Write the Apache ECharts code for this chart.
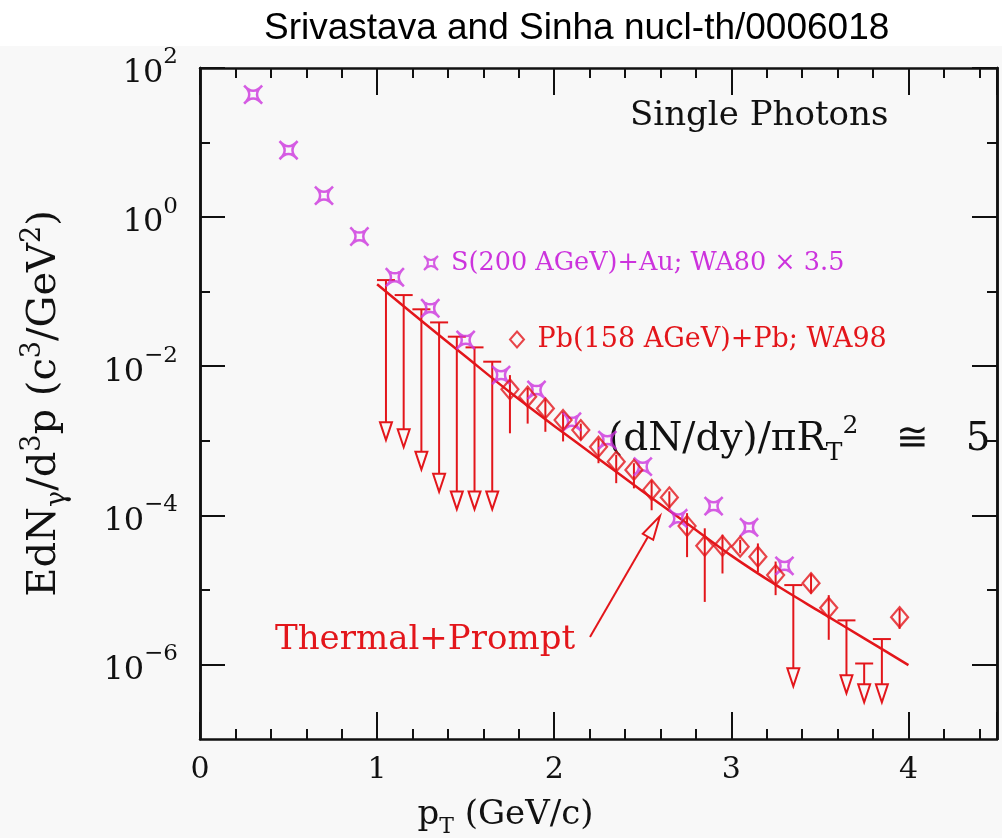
<!DOCTYPE html>
<html><head><meta charset="utf-8">
<script src="https://cdn.jsdelivr.net/npm/echarts@6/dist/echarts.min.js"></script>
<style>
html,body{margin:0;padding:0;background:#fff;}
#c{width:1002px;height:838px;background:linear-gradient(#ffffff 0,#ffffff 46px,#f8f8f8 46px);}
</style></head><body><div id="c"></div>
<script>
// ---- data ----
const wa80X = [0.3,0.5,0.7,0.9,1.1,1.3,1.5,1.7,1.9,2.1,2.3,2.5,2.7,2.9,3.1,3.3];
const wa80Y = [44,7.9,1.94,0.55,0.156,0.06,0.0225,0.0076,0.0048,0.0018,0.00102,4.5e-4,9.1e-5,1.33e-4,6.9e-5,2.1e-5];

const wa98X = [1.75,1.85,1.95,2.05,2.15,2.25,2.35,2.45,2.55,2.65,2.75,2.85,2.95,3.05,3.15,3.25,3.45,3.55,3.95];
const wa98Y = [4.9e-3,3.9e-3,2.72e-3,1.9e-3,1.39e-3,8.3e-4,5.25e-4,4.07e-4,2.19e-4,1.74e-4,7.2e-5,3.9e-5,3.9e-5,3.8e-5,2.79e-5,1.58e-5,1.23e-5,5.75e-6,4.3e-6];
const wa98Hi = [7.6e-3,5.1e-3,3.6e-3,2.45e-3,1.7e-3,1.07e-3,6.5e-4,5.0e-4,2.95e-4,2.1e-4,1.07e-4,6.7e-5,5.5e-5,4.7e-5,4.2e-5,2.4e-5,1.66e-5,8.5e-6,5.6e-6];
const wa98Lo = [1.26e-3,1.7e-3,1.32e-3,9.8e-4,1.02e-3,5.0e-4,2.7e-4,2.3e-4,1.17e-4,1.23e-4,2.75e-5,6.9e-6,1.66e-5,3.1e-5,1.74e-5,8.5e-6,8.9e-6,2.14e-6,3.0e-6];

const ulX   = [1.05,1.15,1.25,1.35,1.45,1.55,1.65,3.35,3.65,3.75,3.85];
const ulTop = [0.143,0.090,0.058,0.0387,0.0249,0.0179,0.0115,1.16e-5,3.9e-6,1.03e-6,2.19e-6];
const ulEnd = [1.02e-3,8.2e-4,4.1e-4,2.07e-4,1.2e-4,1.2e-4,1.2e-4,5.1e-7,4.1e-7,3.1e-7,3.1e-7];

const thX = [1.0,1.25,1.5,1.75,2.0,2.25,2.5,2.75,3.0,3.25,3.5,3.75,4.0];
const thY = [0.126,0.0407,0.0135,4.47e-3,1.58e-3,5.75e-4,2.09e-4,7.76e-5,2.88e-5,1.17e-5,5.1e-6,2.24e-6,9.8e-7];

const yMajorExp = [-6,-4,-2,0,2];
const yMinorExp = [-5,-3,-1,1];
const xTickLabels = [0,1,2,3,4];

// ---- styles ----
const RED = '#e3161b', MAG = '#cc33dd', INK = '#111111';
const FONT = 'DejaVu Serif';
const starPath = 'path://M-3,-3Q0,0.4 3,-3Q-0.4,0 3,3Q0,-0.4 -3,3Q0.4,0 -3,-3Z';
const pw = e => Math.pow(10, e);

const zip = (...arrs) => arrs[0].map((_, i) => arrs.map(a => a[i]));

function yAxisBase(pos, exps, len, labels) {
  return {
    type: 'log', position: pos, min: 1e-7, max: 100, logBase: 10,
    axisLine: {show: true, onZero: false, lineStyle: {color: INK, width: 2.5}},
    axisTick: {show: true, inside: true, length: len, lineStyle: {color: INK, width: 2}, customValues: exps.map(pw)},
    minorTick: {show: false},
    splitLine: {show: false},
    axisLabel: labels ? {
      show: true, margin: 22, customValues: exps.map(pw),
      formatter: v => {
        const e = Math.round(Math.log10(v));
        return '{b|10}{s|' + (e < 0 ? '\u2212' + (-e) : e) + '}';
      },
      rich: {
        b: {fontFamily: FONT, fontSize: 32, lineHeight: 44, verticalAlign: 'bottom', color: INK},
        s: {fontFamily: FONT, fontSize: 23, lineHeight: 23, verticalAlign: 'top', color: INK}
      }
    } : {show: false}
  };
}
function xAxisBase(pos, labels) {
  return {
    type: 'value', position: pos, min: 0, max: 4.5, interval: 1,
    axisLine: {show: true, onZero: false, lineStyle: {color: INK, width: 2.5}},
    axisTick: {show: true, inside: true, length: 27, lineStyle: {color: INK, width: 2}},
    minorTick: {show: true, splitNumber: 5, length: 10, lineStyle: {color: INK, width: 2}},
    splitLine: {show: false},
    axisLabel: labels ? {show: true, margin: 16, fontFamily: FONT, fontSize: 30, color: INK,
      customValues: xTickLabels} : {show: false}
  };
}

const chart = echarts.init(document.getElementById('c'), null, {renderer: 'canvas'});

const xMain = xAxisBase('bottom', true);
xMain.name = '{n|p}{t|T}{n| (GeV/c)}';
xMain.nameLocation = 'middle';
xMain.nameGap = 53;
xMain.nameTextStyle = {padding: [0, 186, 0, 0], rich: {
  n: {fontFamily: FONT, fontSize: 34, lineHeight: 46, verticalAlign: 'middle', color: INK},
  t: {fontFamily: FONT, fontSize: 22, lineHeight: 22, verticalAlign: 'bottom', color: INK}
}};

const yMain = yAxisBase('left', yMajorExp, 25, true);
yMain.name = '{n|EdN}{g|\u03b3}{n|/d}{p|3}{n|p (c}{p|3}{n|/GeV}{p|2}{n|)}';
yMain.nameLocation = 'middle';
yMain.nameRotate = 90;
yMain.nameGap = 129;
yMain.nameTextStyle = {rich: {
  n: {fontFamily: FONT, fontSize: 40, lineHeight: 52, verticalAlign: 'middle', color: INK},
  g: {fontFamily: FONT, fontSize: 27, lineHeight: 27, verticalAlign: 'bottom', color: INK},
  p: {fontFamily: FONT, fontSize: 27, lineHeight: 27, verticalAlign: 'top', color: INK}
}};

// arrow annotation geometry (pixel)
const aStart = [590, 637], aTip = [660, 516];
const adx = aTip[0] - aStart[0], ady = aTip[1] - aStart[1], alen = Math.hypot(adx, ady);
const ux = adx / alen, uy = ady / alen, hl = 24, hw = 6;
const aBase = [aTip[0] - ux * hl, aTip[1] - uy * hl];

const option = {
  backgroundColor: 'transparent',
  animation: false,
  title: {
    text: 'Srivastava and Sinha nucl-th/0006018', left: 259, top: 5,
    textStyle: {fontFamily: 'Liberation Sans', fontWeight: 'normal', fontSize: 37, color: '#000'}
  },
  grid: {left: 200, top: 68, right: 5, bottom: 99, containLabel: false, outerBoundsMode: 'none'},
  xAxis: [xMain, xAxisBase('top', false)],
  yAxis: [yMain, yAxisBase('left', yMinorExp, 10, false), yAxisBase('right', yMajorExp, 25, false), yAxisBase('right', yMinorExp, 10, false)],
  legend: [
    {data: ['S(200 AGeV)+Au; WA80 \u00d7 3.5'], left: 418, top: 245, selectedMode: false,
     itemWidth: 14, itemHeight: 14, formatter: ' {name}',
     textStyle: {color: MAG, fontFamily: FONT, fontSize: 25.5}},
    {data: ['Pb(158 AGeV)+Pb; WA98'], left: 504, top: 321, selectedMode: false,
     itemWidth: 14, itemHeight: 16, formatter: ' {name}',
     textStyle: {color: RED, fontFamily: FONT, fontSize: 27}}
  ],
  series: [
    {
      name: 'Thermal+Prompt', type: 'line', data: zip(thX, thY), showSymbol: false, smooth: 0.3,
      lineStyle: {color: RED, width: 2.5}, z: 3
    },
    {
      name: 'WA98 errors', type: 'custom', data: zip(wa98X, wa98Lo, wa98Hi), encode: {x: 0, y: [1, 2]},
      renderItem: (params, api) => {
        const a = api.coord([api.value(0), api.value(2)]);
        const b = api.coord([api.value(0), api.value(1)]);
        return {type: 'line', shape: {x1: a[0], y1: a[1], x2: b[0], y2: b[1]},
                style: {stroke: RED, lineWidth: 2}};
      }, z: 4
    },
    {
      name: 'WA98 upper limits', type: 'custom', data: zip(ulX, ulTop, ulEnd), encode: {x: 0, y: [1, 2]},
      renderItem: (params, api) => {
        const t = api.coord([api.value(0), api.value(1)]);
        const e = api.coord([api.value(0), api.value(2)]);
        const cx = t[0], hh = 18, hwid = 6;
        return {type: 'group', children: [
          {type: 'line', shape: {x1: cx - 9, y1: t[1], x2: cx + 9, y2: t[1]}, style: {stroke: RED, lineWidth: 2}},
          {type: 'line', shape: {x1: cx, y1: t[1], x2: cx, y2: e[1] - hh}, style: {stroke: RED, lineWidth: 2}},
          {type: 'polygon', shape: {points: [[cx - hwid, e[1] - hh], [cx + hwid, e[1] - hh], [cx, e[1]]]},
           style: {fill: 'none', stroke: RED, lineWidth: 2}}
        ]};
      }, z: 4
    },
    {
      name: 'S(200 AGeV)+Au; WA80 \u00d7 3.5', type: 'scatter', data: zip(wa80X, wa80Y),
      symbol: starPath, symbolSize: 18,
      itemStyle: {color: 'rgba(0,0,0,0)', borderColor: MAG, borderWidth: 2.5}, z: 5
    },
    {
      name: 'Pb(158 AGeV)+Pb; WA98', type: 'scatter', data: zip(wa98X, wa98Y),
      symbol: 'diamond', symbolSize: [17, 20],
      itemStyle: {color: 'rgba(0,0,0,0)', borderColor: RED, borderWidth: 2.2}, z: 6
    }
  ],
  graphic: [
    {type: 'text', x: 630, y: 116, style: {text: 'Single Photons', fill: INK, font: '34px "DejaVu Serif"', verticalAlign: 'middle'}},
    {type: 'text', x: 608, y: 440, style: {
      text: '{n|(dN/dy)/\u03c0R}{s|T}{p|2}{n|   \u2245   5}', verticalAlign: 'middle',
      rich: {
        n: {fontFamily: FONT, fontSize: 39, lineHeight: 52, verticalAlign: 'middle', fill: INK},
        s: {fontFamily: FONT, fontSize: 25, lineHeight: 25, verticalAlign: 'bottom', fill: INK},
        p: {fontFamily: FONT, fontSize: 25, lineHeight: 25, verticalAlign: 'top', fill: INK}
      }}},
    {type: 'text', x: 275, y: 640, style: {text: 'Thermal+Prompt', fill: RED, font: '34px "DejaVu Serif"', verticalAlign: 'middle'}},
    {type: 'line', shape: {x1: aStart[0], y1: aStart[1], x2: aBase[0], y2: aBase[1]}, style: {stroke: RED, lineWidth: 2}},
    {type: 'polygon', shape: {points: [[aTip[0], aTip[1]], [aBase[0] - uy * hw, aBase[1] + ux * hw], [aBase[0] + uy * hw, aBase[1] - ux * hw]]},
     style: {fill: 'none', stroke: RED, lineWidth: 2}}
  ]
};
chart.setOption(option);
</script></body></html>
